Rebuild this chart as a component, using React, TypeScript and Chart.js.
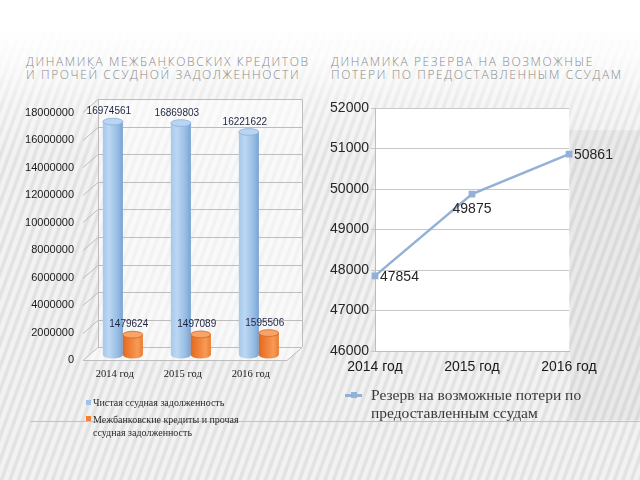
import React, { useEffect, useRef } from "react";
import { Chart, registerables } from "chart.js";

Chart.register(...registerables);

// ---------- data ----------
const years = ["2014 год", "2015 год", "2016 год"];
const netLoanDebt = [16974561, 16869803, 16221622];
const interbankLoans = [1479624, 1497089, 1595506];
const reserveValues = [47854, 49875, 50861];

const leftSeriesNames = [
  "Чистая ссудная задолженность",
  "Межбанковские кредиты и прочая",
  "ссудная задолженность",
];
const rightSeriesName = ["Резерв на возможные потери по", "предоставленным ссудам"];
const leftTitle = ["ДИНАМИКА МЕЖБАНКОВСКИХ КРЕДИТОВ", "И ПРОЧЕЙ ССУДНОЙ ЗАДОЛЖЕННОСТИ"];
const rightTitle = ["ДИНАМИКА РЕЗЕРВА НА ВОЗМОЖНЫЕ", "ПОТЕРИ ПО ПРЕДОСТАВЛЕННЫМ ССУДАМ"];

const leftTicks = [0, 2000000, 4000000, 6000000, 8000000, 10000000, 12000000, 14000000, 16000000, 18000000];
const leftTickStep = 2000000;
const leftTickMax = 18000000;
const rightTickMin = 46000;
const rightTickMax = 52000;
const rightTickStep = 1000;
const rightLabelPlacement = ["right", "below", "right"];

// ---------- styles ----------
const BLUE = "#9dc3e6";
const ORANGE = "#f08236";
const LINE = "#93b1d6";

// 3D geometry of the left chart (pixel offsets of back wall / front edge relative to bar plane)
const PX_PER_STEP = 27.5;
const LEFT_AREA_H = 260.5;
const BACK = { dx: 9.2, dy: -8 };
const FRONT = { dx: -5.8, dy: 5 };
const unitsPerPx = leftTickStep / PX_PER_STEP;
const frontMax = LEFT_AREA_H * unitsPerPx;
const barMin = -FRONT.dy * unitsPerPx;

const threeDPlugin = {
  id: "threeD",
  beforeDatasetsDraw(chart: any) {
    const { ctx, chartArea: ca } = chart;
    const yb = chart.scales.y;
    const ticks: number[] = chart.scales.yFront.ticks.map((t: any) => t.value);
    const x0 = ca.left;
    const x1 = ca.right;
    const by = (v: number) => yb.getPixelForValue(v) + BACK.dy;
    const fy = (v: number) => yb.getPixelForValue(v) + FRONT.dy;
    ctx.save();
    const top = by(leftTickMax);
    const bot = by(0);
    ctx.fillStyle = "rgba(255,255,255,0.55)";
    ctx.fillRect(x0 + BACK.dx, top, x1 - x0, bot - top);
    ctx.beginPath();
    ctx.moveTo(x0 + FRONT.dx, fy(0));
    ctx.lineTo(x1 + FRONT.dx, fy(0));
    ctx.lineTo(x1 + BACK.dx, bot);
    ctx.lineTo(x0 + BACK.dx, bot);
    ctx.closePath();
    ctx.fill();

    ctx.strokeStyle = "#bdbdbd";
    ctx.lineWidth = 1;
    ticks.forEach((v) => {
      const yB = Math.round(by(v)) + 0.5;
      ctx.beginPath();
      ctx.moveTo(x0 + FRONT.dx, Math.round(fy(v)) + 0.5);
      ctx.lineTo(x0 + BACK.dx, yB);
      ctx.lineTo(x1 + BACK.dx, yB);
      ctx.stroke();
    });
    ctx.beginPath();
    ctx.moveTo(Math.round(x0 + BACK.dx) + 0.5, top);
    ctx.lineTo(Math.round(x0 + BACK.dx) + 0.5, bot);
    ctx.moveTo(Math.round(x1 + BACK.dx) + 0.5, top);
    ctx.lineTo(Math.round(x1 + BACK.dx) + 0.5, bot);
    ctx.stroke();
    ctx.beginPath();
    ctx.moveTo(x0 + FRONT.dx, Math.round(fy(0)) + 0.5);
    ctx.lineTo(x1 + FRONT.dx, Math.round(fy(0)) + 0.5);
    ctx.lineTo(x1 + BACK.dx, Math.round(bot) + 0.5);
    ctx.stroke();
    ctx.restore();
  },
  afterDatasetsDraw(chart: any) {
    const { ctx } = chart;
    const palettes = [
      {
        stops: ["#a7c8ec", "#bcd7f3", "#96bce4", "#7aa3d2"],
        top: "#b9d5f1",
        rim: "#8bb1dc",
        label: "#1e2540",
      },
      {
        stops: ["#de6a22", "#ee7c31", "#f69b57", "#ea7a2f"],
        top: "#f7a468",
        rim: "#d46620",
        label: "#1e2540",
      },
    ];
    chart.data.datasets.forEach((ds: any, di: number) => {
      const meta = chart.getDatasetMeta(di);
      const pal = palettes[di];
      meta.data.forEach((bar: any, i: number) => {
        const { x, y, base, width } = bar.getProps(["x", "y", "base", "width"], true);
        const l = x - width / 2;
        const r = x + width / 2;
        const ry = width * 0.17;
        ctx.save();
        const g = ctx.createLinearGradient(l, 0, r, 0);
        g.addColorStop(0, pal.stops[0]);
        g.addColorStop(0.3, pal.stops[1]);
        g.addColorStop(0.75, pal.stops[2]);
        g.addColorStop(1, pal.stops[3]);
        ctx.fillStyle = g;
        ctx.beginPath();
        ctx.moveTo(l, y);
        ctx.lineTo(l, base);
        ctx.ellipse(x, base, width / 2, ry, 0, Math.PI, 0, true);
        ctx.lineTo(r, y);
        ctx.closePath();
        ctx.fill();
        ctx.beginPath();
        ctx.ellipse(x, y, width / 2, ry, 0, 0, Math.PI * 2);
        ctx.fillStyle = pal.top;
        ctx.fill();
        ctx.strokeStyle = pal.rim;
        ctx.lineWidth = 0.8;
        ctx.stroke();
        ctx.font = '10px "Liberation Sans", Arial, sans-serif';
        ctx.fillStyle = pal.label;
        ctx.textAlign = "center";
        ctx.textBaseline = "middle";
        ctx.fillText(String(ds.data[i]), x - 4, y - 10);
        ctx.restore();
      });
    });
  },
};

const lineLabelPlugin = {
  id: "lineLabels",
  beforeDraw(chart: any) {
    const { ctx, chartArea: ca } = chart;
    ctx.save();
    ctx.fillStyle = "#ffffff";
    ctx.fillRect(ca.left, ca.top, ca.right - ca.left, ca.bottom - ca.top);
    ctx.restore();
  },
  afterDatasetsDraw(chart: any) {
    const { ctx } = chart;
    const meta = chart.getDatasetMeta(0);
    const data = chart.data.datasets[0].data;
    ctx.save();
    ctx.font = '14px "Liberation Sans", Arial, sans-serif';
    ctx.fillStyle = "#262626";
    ctx.textBaseline = "middle";
    meta.data.forEach((pt: any, i: number) => {
      const { x, y } = pt.getProps(["x", "y"], true);
      if (rightLabelPlacement[i] === "below") {
        ctx.textAlign = "center";
        ctx.fillText(String(data[i]), x, y + 15);
      } else {
        ctx.textAlign = "left";
        ctx.fillText(String(data[i]), x + 5, y + 1.5);
      }
    });
    ctx.restore();
  },
};

export default function App() {
  const leftRef = useRef<HTMLCanvasElement>(null);
  const rightRef = useRef<HTMLCanvasElement>(null);

  useEffect(() => {
    const left = new Chart(leftRef.current as HTMLCanvasElement, {
      type: "bar",
      data: {
        labels: years,
        datasets: [
          {
            label: leftSeriesNames[0],
            data: netLoanDebt,
            backgroundColor: BLUE,
            yAxisID: "y",
            categoryPercentage: 0.585,
            barPercentage: 1,
          },
          {
            label: leftSeriesNames[1] + " " + leftSeriesNames[2],
            data: interbankLoans,
            backgroundColor: ORANGE,
            yAxisID: "y",
            categoryPercentage: 0.585,
            barPercentage: 1,
          },
        ],
      },
      options: {
        responsive: false,
        animation: false,
        events: [],
        layout: { padding: { top: 9.5, right: 27.2, left: 0, bottom: 0 } },
        plugins: { legend: { display: false }, tooltip: { enabled: false } },
        scales: {
          x: {
            type: "category",
            grid: { display: false, drawTicks: false },
            border: { display: false },
            ticks: {
              color: "#1a1a1a",
              font: { family: '"Liberation Serif", "Times New Roman", serif', size: 10.5 },
              padding: 7.5,
              labelOffset: -8,
              maxRotation: 0,
            },
            afterFit: (s: any) => {
              s.height = 40;
            },
          },
          y: {
            type: "linear",
            display: false,
            min: barMin,
            max: frontMax + barMin,
          },
          yFront: {
            type: "linear",
            position: "left",
            min: 0,
            max: frontMax,
            grid: { display: false, drawTicks: true, tickLength: 14.8 },
            border: { display: false },
            afterBuildTicks: (s: any) => {
              s.ticks = leftTicks.map((v) => ({ value: v }));
            },
            ticks: {
              color: "#1a1a1a",
              font: { family: '"Liberation Sans", Arial, sans-serif', size: 11 },
              padding: 0,
              callback: (v: any) => String(Math.round(Number(v))),
            },
            afterFit: (s: any) => {
              s.width = 88.8;
            },
          },
        },
      } as any,
      plugins: [threeDPlugin],
    });

    const right = new Chart(rightRef.current as HTMLCanvasElement, {
      type: "line",
      data: {
        labels: years,
        datasets: [
          {
            label: rightSeriesName.join(" "),
            data: reserveValues,
            borderColor: LINE,
            backgroundColor: LINE,
            borderWidth: 2.5,
            pointStyle: "rect",
            pointRadius: 3,
            pointBackgroundColor: LINE,
            pointBorderColor: LINE,
            tension: 0,
            clip: false,
          },
        ],
      },
      options: {
        responsive: false,
        animation: false,
        events: [],
        layout: { padding: { top: 18, right: 71, left: 0, bottom: 0 } },
        plugins: { legend: { display: false }, tooltip: { enabled: false } },
        scales: {
          x: {
            type: "category",
            offset: false,
            grid: { display: false, drawTicks: false },
            border: { display: true, color: "#bdbdbd" },
            ticks: {
              color: "#1a1a1a",
              font: { family: '"Liberation Sans", Arial, sans-serif', size: 14 },
              padding: 8,
              maxRotation: 0,
              autoSkip: false,
            },
            afterFit: (s: any) => {
              s.height = 29;
            },
          },
          y: {
            type: "linear",
            min: rightTickMin,
            max: rightTickMax,
            grid: { color: "#c8c8c8", tickLength: 4, drawTicks: true },
            border: { display: true, color: "#bdbdbd" },
            ticks: {
              stepSize: rightTickStep,
              color: "#262626",
              font: { family: '"Liberation Sans", Arial, sans-serif', size: 14 },
              padding: 2,
              callback: (v: any) => String(v),
            },
            afterFit: (s: any) => {
              s.width = 55;
            },
          },
        },
      } as any,
      plugins: [lineLabelPlugin],
    });

    return () => {
      left.destroy();
      right.destroy();
    };
  }, []);

  const titleStyle: React.CSSProperties = {
    position: "absolute",
    top: 56,
    fontFamily: '"Open Sans", "Liberation Sans", sans-serif',
    fontWeight: 300,
    fontSize: 12,
    lineHeight: "12.5px",
    letterSpacing: "1.6px",
    color: "#8a8a8a",
    whiteSpace: "nowrap",
  };
  const serif = '"Liberation Serif", "Times New Roman", serif';

  return (
    <div
      style={{
        position: "fixed",
        left: 0,
        top: 0,
        width: 640,
        height: 480,
        overflow: "hidden",
        background:
          "repeating-linear-gradient(110deg, #f2f2f2 0px, #f2f2f2 3px, #e2e2e2 4.5px, #e2e2e2 6.5px, #f2f2f2 8px)",
      }}
    >
      <div
        style={{
          position: "absolute",
          left: 0,
          top: 0,
          width: 640,
          height: 160,
          background:
            "linear-gradient(to bottom, #ffffff 0px, #ffffff 25px, rgba(255,255,255,0.8) 60px, rgba(255,255,255,0.35) 100px, rgba(255,255,255,0) 160px)",
        }}
      />
      <div
        style={{
          position: "absolute",
          left: 570,
          top: 130,
          width: 70,
          height: 290,
          background: "rgba(0,0,0,0.035)",
        }}
      />
      <div
        style={{
          position: "absolute",
          left: 30,
          top: 421,
          width: 610,
          height: 1,
          background: "#c2c2c2",
        }}
      />

      <div style={{ ...titleStyle, left: 26 }}>
        <div>{leftTitle[0]}</div>
        <div>{leftTitle[1]}</div>
      </div>
      <div style={{ ...titleStyle, left: 331 }}>
        <div>{rightTitle[0]}</div>
        <div>{rightTitle[1]}</div>
      </div>

      <canvas
        ref={leftRef}
        width={320}
        height={310}
        style={{ position: "absolute", left: 0, top: 90 }}
      />
      <canvas
        ref={rightRef}
        width={320}
        height={290}
        style={{ position: "absolute", left: 320, top: 90 }}
      />

      {/* left legend */}
      <div style={{ position: "absolute", left: 86, top: 400, width: 5, height: 5, background: BLUE }} />
      <div style={{ position: "absolute", left: 86, top: 416, width: 5, height: 5, background: ORANGE }} />
      <div
        style={{
          position: "absolute",
          left: 93,
          top: 396.5,
          font: `10px ${serif}`,
          lineHeight: "12px",
          color: "#2a2a2a",
          whiteSpace: "nowrap",
        }}
      >
        {leftSeriesNames[0]}
      </div>
      <div
        style={{
          position: "absolute",
          left: 93,
          top: 412.5,
          font: `10px ${serif}`,
          lineHeight: "13px",
          color: "#2a2a2a",
          whiteSpace: "nowrap",
        }}
      >
        <div>{leftSeriesNames[1]}</div>
        <div>{leftSeriesNames[2]}</div>
      </div>

      {/* right legend */}
      <div style={{ position: "absolute", left: 345, top: 394, width: 17, height: 2.5, background: LINE }} />
      <div style={{ position: "absolute", left: 350.5, top: 392, width: 6, height: 6, background: LINE }} />
      <div
        style={{
          position: "absolute",
          left: 371,
          top: 386,
          font: `15.5px ${serif}`,
          lineHeight: "18px",
          color: "#3a3a3a",
          whiteSpace: "nowrap",
        }}
      >
        <div>{rightSeriesName[0]}</div>
        <div>{rightSeriesName[1]}</div>
      </div>
    </div>
  );
}
